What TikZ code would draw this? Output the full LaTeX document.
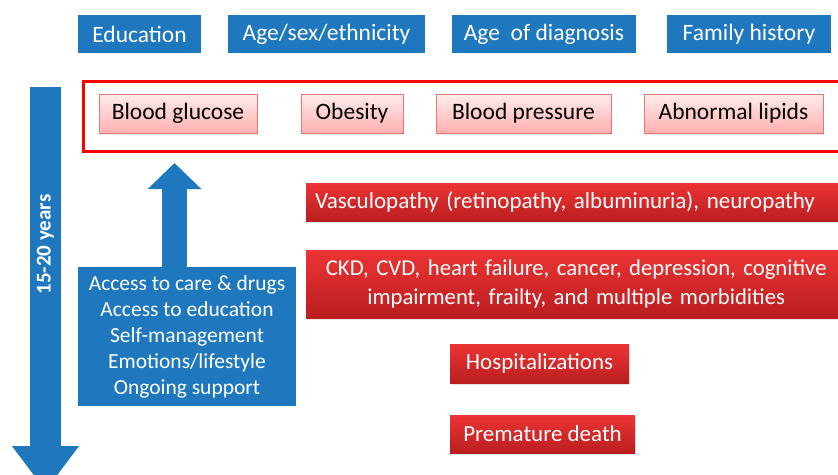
\documentclass[tikz,border=0pt]{standalone}
\usepackage{fontspec}
\setmainfont{Carlito}
\usepackage{tikz}
\usetikzlibrary{arrows.meta, shadows}
\definecolor{ppt}{RGB}{31, 120, 190}
\definecolor{pinktop}{RGB}{255, 236, 236}
\definecolor{pinkbot}{RGB}{255, 176, 176}
\definecolor{pinkline}{RGB}{232, 118, 118}
\definecolor{redtop}{RGB}{236, 52, 52}
\definecolor{redbot}{RGB}{186, 30, 32}

\begin{document}
\begin{tikzpicture}[x=1pt, y=-1pt,
  factor/.style={fill=ppt, text=white, inner sep=0, minimum height=38,
    font=\fontsize{23.5}{28}\selectfont},
  risk/.style={draw=pinkline, top color=pinktop, bottom color=pinkbot, inner sep=0,
    minimum height=39, font=\fontsize{23.5}{28}\selectfont,
    drop shadow={shadow xshift=0.5pt, shadow yshift=-1.5pt, opacity=0.2}},
  outcome/.style={top color=redtop, bottom color=redbot, text=white, inner sep=0,
    font=\fontsize{23}{29}\selectfont,
    drop shadow={shadow xshift=0.5pt, shadow yshift=-1.5pt, opacity=0.2}},
  uparrow/.style={draw=ppt, line width=25pt, -{Triangle[length=26pt, width=52pt]}},
  timearrow/.style={draw=ppt, line width=31pt, -{Triangle[length=45pt, width=64pt]}}]

  \clip (0, 0) rectangle (838, 474);

  % fixed factors
  \foreach \name/\x/\w/\txt in {edu/139.5/123/Education, age/326.5/197/{Age/sex/ethnicity},
      diag/544/184/{Age~ of diagnosis}, fam/749/164/Family history} {
    \node[factor, minimum width=\w] (\name) at (\x, 34) {\txt};
  }

  % risk factors
  \node[draw=red, line width=3pt, inner sep=0, minimum width=800, minimum height=70,
    anchor=north west] (frame) at (81.5, 80) {};
  \foreach \name/\x/\w/\txt in {glu/178/158/Blood glucose, obe/352/102/Obesity,
      bp/523.5/175/Blood pressure, lip/733.5/179/Abnormal lipids} {
    \node[risk, minimum width=\w] (\name) at (\x, 113.5) {\txt};
  }

  % outcomes
  \node[outcome, anchor=west, minimum height=38, text width=532, inner xsep=9,
    align=left] (vasc) at (306, 202)
    {Vasculopathy (retinopathy, albuminuria), neuropathy};
  \node[outcome, anchor=west, minimum height=68, text width=540, align=center,
    font=\fontsize{22.7}{29}\selectfont] (ckd)
    at (306, 284) {CKD, CVD, heart failure, cancer, depression, cognitive\\
    impairment, frailty, and multiple morbidities};
  \node[outcome, minimum width=179, minimum height=39] (hosp) at (539.5, 363.5)
    {Hospitalizations};
  \node[outcome, minimum width=185, minimum height=38] (death) at (542.5, 434)
    {Premature death};

  % care
  \node[factor, align=center, minimum width=218, minimum height=139,
    font=\fontsize{21.5}{26}\selectfont] (acc) at (187, 336.5)
    {Access to care \& drugs\\Access to education\\Self-management\\
    Emotions/lifestyle\\Ongoing support};
  \coordinate (upTip) at (174.5, 163);
  \draw[uparrow] (acc.north -| upTip) -- (upTip);

  % time line
  \coordinate (timeTop) at (45.5, 87);
  \coordinate (timeEnd) at (45.5, 491);
  \draw[timearrow] (timeTop) -- (timeEnd)
    node[pos=0.39, rotate=90, text=white, font=\fontsize{21}{25}\selectfont\bfseries]
    (years) {15-20 years};

\end{tikzpicture}
\end{document}
